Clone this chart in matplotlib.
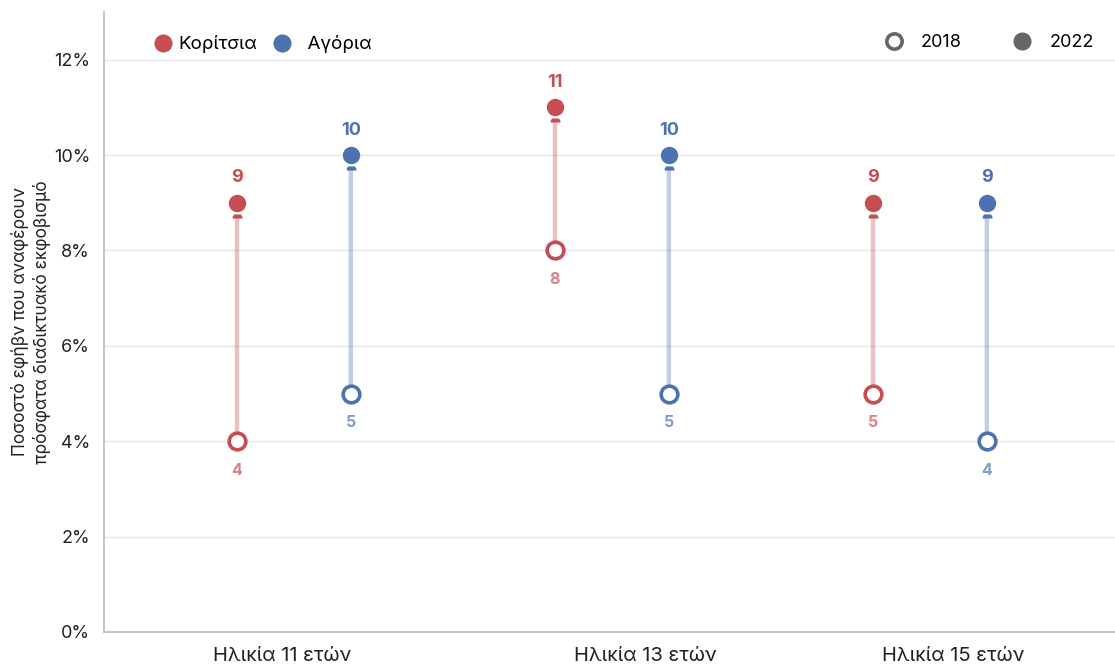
import matplotlib
matplotlib.use("Agg")
import matplotlib.pyplot as plt
from matplotlib.lines import Line2D
from matplotlib.transforms import offset_copy

plt.rcParams['font.family'] = ['Inter', 'DejaVu Sans']

ages = ["Ηλικία 11 ετών", "Ηλικία 13 ετών", "Ηλικία 15 ετών"]
girls_2018 = [4, 8, 5]
girls_2022 = [9, 11, 9]
boys_2018 = [5, 5, 4]
boys_2022 = [10, 10, 9]

red = "#C44E52"
blue = "#4C72B0"
gray = "#666666"

fig = plt.figure(figsize=(11.15, 6.68), dpi=100)
ax = fig.add_axes([104 / 1115, 1 - 632 / 668, 1011 / 1115, 620 / 668])

# flat arrow head sitting just under the 2022 dot
head = [(-1, -0.3), (1, -0.3), (0.7, 0.3), (-0.7, 0.3), (-1, -0.3)]
head_tr = offset_copy(ax.transData, fig=fig, x=0, y=-13, units="dots")

offset = 0.179
series = [(girls_2018, girls_2022, red, -offset), (boys_2018, boys_2022, blue, offset)]
for old, new, col, dx in series:
    for i, (a, b) in enumerate(zip(old, new)):
        x = i + dx
        ax.annotate("", xy=(x, b), xytext=(x, a),
                    arrowprops=dict(arrowstyle="-", color=col, alpha=0.35, lw=3.2,
                                    shrinkA=7, shrinkB=10.5), zorder=2)
        ax.plot([x], [b], marker=head, ms=6.5, color=col, ls="", transform=head_tr,
                zorder=3)
        ax.plot([x], [a], "o", ms=12, mfc="white", mec=col, mew=2.6, zorder=3)
        ax.plot([x], [b], "o", ms=11.5, color=col, zorder=3)
        ax.annotate(str(b), (x, b), xytext=(0, 18), textcoords="offset points",
                    ha="center", va="center", color=col, fontsize=13, fontweight="bold")
        ax.annotate(str(a), (x, a), xytext=(0, -21), textcoords="offset points",
                    ha="center", va="center", color=col, alpha=0.7, fontsize=11.5,
                    fontweight="bold")

ax.set_xlim(-0.597, 2.582)
ax.set_ylim(0, 13.0)
ax.set_yticks(range(0, 13, 2))
ax.set_yticklabels([f"{v}%" for v in range(0, 13, 2)], fontsize=13, color="#222222")
ax.set_xticks([-0.038, 1.104, 2.072])
ax.set_xticklabels(ages, fontsize=14.5, color="#222222")
ax.tick_params(length=0)
ax.tick_params(axis="y", pad=10)
ax.tick_params(axis="x", pad=11)
ax.grid(axis="y", color="#e6e6e6", lw=1)
ax.set_axisbelow(True)
for s in ["top", "right"]:
    ax.spines[s].set_visible(False)
for s in ["left", "bottom"]:
    ax.spines[s].set_color("#bbbbbb")
    ax.spines[s].set_linewidth(1.2)

fig.text(31 / 1115, 1 - 322 / 668,
         "Ποσοστό εφήβν που αναφέρουν\nπρόσφατα διαδικτυακό εκφοβισμό",
         rotation=90, ha="center", va="center", fontsize=12.5, color="#222222",
         linespacing=1.25)

h_gender = [Line2D([], [], ls="", marker="o", ms=12, color=red),
            Line2D([], [], ls="", marker="o", ms=12, color=blue)]
leg1 = ax.legend(h_gender, ["Κορίτσια", "Αγόρια"], loc="upper left",
                 bbox_to_anchor=(0.028, 0.99), ncol=2, frameon=False, fontsize=13.5,
                 handletextpad=0.05, columnspacing=0.6, handlelength=1.5)
ax.add_artist(leg1)
# extra gap between the blue dot and its label
leg1.get_texts()[1].set_text("  Αγόρια")
h_year = [Line2D([], [], ls="", marker="o", ms=11, mfc="white", mec=gray, mew=2.6),
          Line2D([], [], ls="", marker="o", ms=12, color=gray)]
ax.legend(h_year, ["2018", "2022"], loc="upper right", bbox_to_anchor=(0.995, 0.99),
          ncol=2, frameon=False, fontsize=13, handletextpad=0.75, columnspacing=2.6,
          handlelength=1.5)

fig.savefig("out.png", dpi=100)
